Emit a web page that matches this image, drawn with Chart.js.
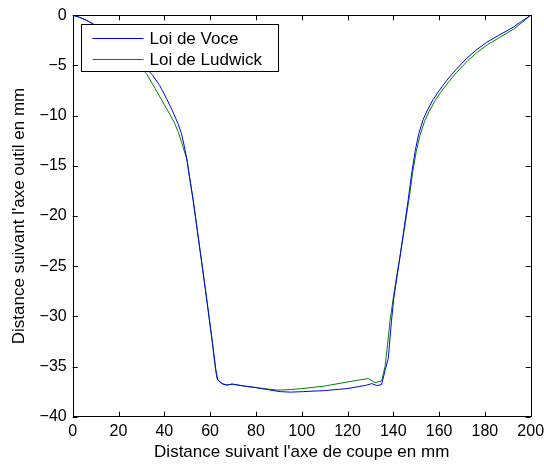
<!DOCTYPE html>
<html>
<head>
    <title>Profil de coupe</title>
    <script src="https://cdn.jsdelivr.net/npm/chart.js"></script>
    <style>
        body {
            margin: 0;
            padding: 0;
            background-color: #fff;
        }

        .chart-container {
            width: 544px;
            height: 464px;
        }
    </style>
</head>
<body>
    <div class="chart-container">
        <canvas id="profileChart"></canvas>
    </div>

    <script>
        // values (mm)
        const voceX = [0, 3, 6, 8.6, 12, 16, 20, 24, 28, 31, 34.7, 38, 41, 43.5, 46, 47.5, 48.7, 49.9, 51, 52.6, 55, 58, 61, 62.5, 63.3, 64.5, 65.5, 67.4, 69.6, 75, 80, 85, 90.6, 95, 100.8, 110, 119.7, 125, 128.4, 130.6, 132.8, 134.9, 136.4, 137.8, 139.2, 140.2, 142.9, 146.5, 148, 149.5, 151, 153, 155, 157.4, 160, 163.3, 167, 172, 176, 180.7, 186, 192.3, 196, 200];
        const voceY = [0, -0.2, -0.5, -0.8, -1.3, -2.0, -2.8, -3.6, -4.5, -5.1, -5.9, -7.0, -8.3, -9.5, -10.8, -11.8, -13.0, -14.4, -16.1, -18.4, -22.4, -27.4, -32.6, -35.3, -36.3, -36.6, -36.75, -36.85, -36.75, -36.95, -37.1, -37.3, -37.5, -37.55, -37.5, -37.4, -37.2, -37.0, -36.85, -36.7, -36.9, -36.8, -35.4, -34.2, -30.5, -28.2, -24.1, -18.4, -15.8, -13.6, -11.9, -10.4, -9.4, -8.4, -7.5, -6.5, -5.5, -4.3, -3.5, -2.7, -2.0, -1.2, -0.6, 0];

        const ludwickX = [0, 3, 6, 8.6, 12, 16, 20, 24, 28, 32.2, 36, 40, 42.5, 44.6, 46.2, 47.5, 48.7, 49.9, 51, 52.6, 55, 58, 61, 62.3, 63, 64.5, 65.5, 67.4, 69.6, 75, 80, 89.2, 95, 100, 110, 119.7, 125, 129.1, 132, 134.9, 136.4, 137.5, 138.6, 140.4, 143.3, 147, 148.5, 150, 151.6, 153.6, 155.6, 158, 160.6, 164, 167.6, 172.6, 176.6, 181.3, 186.5, 192.7, 196.3, 200];
        const ludwickY = [0, -0.2, -0.5, -0.85, -1.4, -2.1, -3.0, -3.9, -4.9, -5.8, -7.3, -8.9, -9.9, -10.8, -11.7, -12.6, -13.5, -14.4, -16.1, -18.4, -22.4, -27.4, -32.6, -35.2, -36.2, -36.55, -36.7, -36.85, -36.75, -36.95, -37.1, -37.35, -37.3, -37.2, -36.95, -36.55, -36.35, -36.2, -36.6, -36.45, -35.0, -32.8, -30.4, -27.5, -23.5, -18.1, -15.6, -13.6, -12.0, -10.6, -9.6, -8.6, -7.7, -6.7, -5.7, -4.5, -3.7, -2.9, -2.2, -1.35, -0.7, 0];

        const seriesNames = ['Loi de Voce', 'Loi de Ludwick'];
        const seriesColors = ['#0000ff', '#008000'];

        const xTicks = [0, 20, 40, 60, 80, 100, 120, 140, 160, 180, 200];
        const yTicks = [-40, -35, -30, -25, -20, -15, -10, -5, 0];

        const fontFamily = '"Liberation Sans", Arial, sans-serif';

        function toPoints(xs, ys) {
            return xs.map((x, i) => ({ x: x, y: ys[i] }));
        }

        // MATLAB style frame, inward ticks on all sides, legend box in the corner
        const matlabFrame = {
            id: 'matlabFrame',
            afterDraw(chart) {
                const ctx = chart.ctx;
                const a = chart.chartArea;
                const xs = chart.scales.x;
                const ys = chart.scales.y;
                const len = 5;

                ctx.save();
                ctx.strokeStyle = '#000';
                ctx.lineWidth = 1;
                ctx.beginPath();
                xTicks.forEach(v => {
                    const px = Math.round(xs.getPixelForValue(v)) + 0.5;
                    ctx.moveTo(px, a.bottom); ctx.lineTo(px, a.bottom - len);
                    ctx.moveTo(px, a.top); ctx.lineTo(px, a.top + len);
                });
                yTicks.forEach(v => {
                    const py = Math.round(ys.getPixelForValue(v)) + 0.5;
                    ctx.moveTo(a.left, py); ctx.lineTo(a.left + len, py);
                    ctx.moveTo(a.right, py); ctx.lineTo(a.right - len, py);
                });
                ctx.stroke();
                ctx.strokeRect(Math.round(a.left) + 0.5, Math.round(a.top) + 0.5,
                    Math.round(a.right - a.left), Math.round(a.bottom - a.top));

                // legend
                const lx = Math.round(a.left + 8) + 0.5, ly = Math.round(a.top + 9) + 0.5, lw = 197, lh = 47;
                ctx.fillStyle = '#fff';
                ctx.fillRect(lx, ly, lw, lh);
                ctx.strokeRect(lx, ly, lw, lh);
                ctx.font = '17px ' + fontFamily;
                ctx.textBaseline = 'middle';
                chart.data.datasets.forEach((ds, i) => {
                    const rowY = ly + 14 + i * 21;
                    ctx.strokeStyle = ds.borderColor;
                    ctx.beginPath();
                    ctx.moveTo(lx + 11, rowY);
                    ctx.lineTo(lx + 62, rowY);
                    ctx.stroke();
                    ctx.fillStyle = '#000';
                    ctx.fillText(ds.label, lx + 68, rowY + 1);
                });
                ctx.restore();
            }
        };

        new Chart(document.getElementById('profileChart'), {
            type: 'line',
            data: {
                datasets: [
                    { label: seriesNames[0], data: toPoints(voceX, voceY), borderColor: seriesColors[0] },
                    { label: seriesNames[1], data: toPoints(ludwickX, ludwickY), borderColor: seriesColors[1] }
                ]
            },
            options: {
                responsive: true,
                maintainAspectRatio: false,
                animation: false,
                layout: { padding: { left: 0, right: 13.3, top: 15.3, bottom: 0 } },
                elements: {
                    point: { radius: 0 },
                    line: { borderWidth: 1, tension: 0 }
                },
                plugins: {
                    legend: { display: false },
                    tooltip: { enabled: false }
                },
                scales: {
                    x: {
                        type: 'linear',
                        min: 0,
                        max: 200,
                        afterBuildTicks: s => { s.ticks = xTicks.map(v => ({ value: v })); },
                        afterFit: s => {
                            s.height = 47.3;
                            s.paddingLeft = 0;
                            s.paddingRight = 0;
                        },
                        grid: { display: false, drawTicks: false },
                        border: { display: false },
                        ticks: {
                            color: '#000',
                            padding: 5.7,
                            maxRotation: 0,
                            font: { family: fontFamily, size: 16 }
                        },
                        title: {
                            display: true,
                            text: "Distance suivant l'axe de coupe en mm",
                            color: '#000',
                            padding: { top: 0, bottom: 1.8 },
                            font: { family: fontFamily, size: 17 }
                        }
                    },
                    y: {
                        type: 'linear',
                        min: -40,
                        max: 0,
                        afterBuildTicks: s => { s.ticks = yTicks.map(v => ({ value: v })); },
                        afterFit: s => {
                            s.width = 72.7;
                            s.paddingTop = 0;
                            s.paddingBottom = 0;
                        },
                        grid: { display: false, drawTicks: false },
                        border: { display: false },
                        ticks: {
                            color: '#000',
                            padding: 6,
                            callback: v => String(v).replace('-', '\u2212'),
                            font: { family: fontFamily, size: 16 }
                        },
                        title: {
                            display: true,
                            text: "Distance suivant l'axe outil en mm",
                            color: '#000',
                            padding: { top: 8.8, bottom: 0 },
                            font: { family: fontFamily, size: 17 }
                        }
                    }
                }
            },
            plugins: [matlabFrame]
        });
    </script>
</body>
</html>
